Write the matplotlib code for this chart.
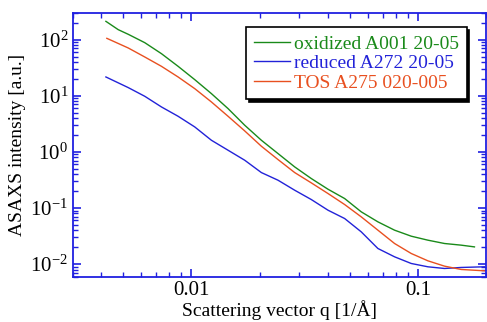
import matplotlib
matplotlib.use("Agg")
import matplotlib.pyplot as plt

plt.rcParams['font.family'] = ['Liberation Serif', 'DejaVu Serif']
plt.rcParams['mathtext.fontset'] = 'stix'

# Data (q in 1/Å, intensity in a.u.)
q_green = [0.00419, 0.00475, 0.00526, 0.00622, 0.00737, 0.00873, 0.01034, 0.01225, 0.01451,
           0.01719, 0.02036, 0.02412, 0.02857, 0.03384, 0.04009, 0.04749, 0.05623, 0.06661,
           0.0789, 0.09346, 0.1107, 0.1311, 0.1553, 0.1778]
I_green = [212, 150.7, 124.5, 88.4, 56.3, 33.5, 19.4, 10.93, 5.91,
           2.985, 1.613, 0.934, 0.5406, 0.335, 0.2164, 0.1476, 0.0855, 0.0567,
           0.0403, 0.0315, 0.02675, 0.02333, 0.0218, 0.0203]

q_blue = [0.00419, 0.00526, 0.00622, 0.00737, 0.00873, 0.01034, 0.01225, 0.01451,
          0.01719, 0.02036, 0.02412, 0.02857, 0.03384, 0.04009, 0.04749, 0.05623, 0.06661,
          0.0789, 0.09346, 0.1107, 0.1311, 0.1553, 0.1968]
I_blue = [21.64, 13.98, 9.80, 6.327, 4.315, 2.787, 1.613, 1.071,
          0.7106, 0.4285, 0.313, 0.2077, 0.1416, 0.0915, 0.065, 0.0376, 0.019,
          0.01351, 0.01028, 0.00897, 0.00837, 0.00873, 0.00897]

q_red = [0.00423, 0.00526, 0.00622, 0.00737, 0.00873, 0.01034, 0.01225, 0.01451,
         0.01719, 0.02036, 0.02412, 0.02857, 0.03384, 0.04009, 0.04749, 0.05623, 0.06661,
         0.0789, 0.09346, 0.1107, 0.1311, 0.1553, 0.1968]
I_red = [105.6, 71.05, 49.14, 33.5, 21.64, 13.41, 7.766, 4.315,
         2.365, 1.262, 0.7303, 0.4285, 0.2805, 0.1813, 0.1154, 0.0696, 0.0403,
         0.02333, 0.01549, 0.01147, 0.00921, 0.00804, 0.00761]

labels = ["oxidized A001 20-05", "reduced A272 20-05", "TOS A275 020-005"]
colors = ["#1a8a1a", "#2222d8", "#e85020"]

fig = plt.figure(figsize=(4.87, 3.22), dpi=100)
ax = fig.add_axes([0.150, 0.141, 0.848, 0.819])

for q, I, lab, c in zip([q_green, q_blue, q_red], [I_green, I_blue, I_red], labels, colors):
    ax.plot(q, I, color=c, lw=1.0, label=lab)

ax.set_xscale('log')
ax.set_yscale('log')
ax.set_xlim(0.003, 0.2)
ax.set_ylim(0.006, 300)

axc = "#2020e0"
for s in ax.spines.values():
    s.set_color(axc)
    s.set_linewidth(1.3)
ax.tick_params(which='both', direction='in', top=True, right=True, color=axc, labelsize=15)
ax.tick_params(which='major', length=6, width=1.2)
ax.tick_params(which='minor', length=3.5, width=1.0)
ax.tick_params(axis='x', which='major', pad=3)

ax.set_xticks([0.01, 0.1])
ax.set_xticklabels(["0.01", "0.1"])
ax.set_xlabel("Scattering vector q [1/Å]", fontsize=14, labelpad=0)
ax.set_ylabel("ASAXS intensity [a.u.]", fontsize=14, labelpad=3)

leg = ax.legend(loc='upper right', bbox_to_anchor=(0.953, 0.946), fontsize=14, frameon=True,
                fancybox=False, shadow={'color': 'black', 'alpha': 1.0}, handlelength=1.85,
                handletextpad=0.2, borderpad=0.4, labelspacing=0.1, borderaxespad=0.0)
leg.get_frame().set_edgecolor('black')
leg.get_frame().set_linewidth(1.2)
for t, c in zip(leg.get_texts(), colors):
    t.set_color(c)

fig.savefig("out.png", dpi=100)
